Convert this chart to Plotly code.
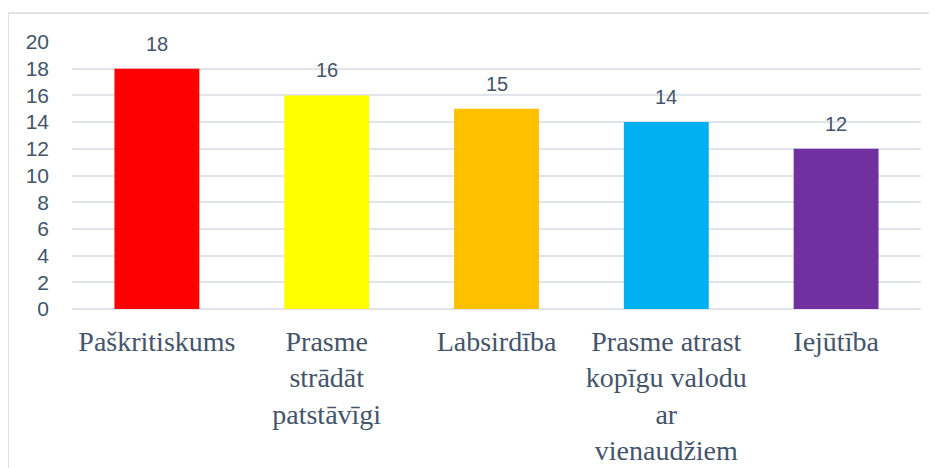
import plotly.graph_objects as go

categories = ["Paškritiskums", "Prasme strādāt patstāvīgi", "Labsirdība",
              "Prasme atrast kopīgu valodu ar vienaudžiem", "Iejūtība"]
tick_labels = ["Paškritiskums", "Prasme<br>strādāt<br>patstāvīgi", "Labsirdība",
               "Prasme atrast<br>kopīgu valodu<br>ar<br>vienaudžiem", "Iejūtība"]
values = [18, 16, 15, 14, 12]
colors = ["#FF0000", "#FFFF00", "#FFC000", "#00B0F0", "#7030A0"]
y_ticks = list(range(0, 21, 2))

text_color = "#44546A"
grid_color = "#E1E4EA"

fig = go.Figure()
fig.add_trace(go.Bar(x=categories, y=values, marker=dict(color=colors, line=dict(width=0)),
                     hoverinfo="x+y"))

for c, v in zip(categories, values):
    fig.add_annotation(x=c, y=v, text=str(v), showarrow=False, yanchor="middle", yshift=25,
                       font=dict(family="Liberation Sans, Arial", size=20, color=text_color))

# outer chart border (page is offset by the 8px body margin)
fig.add_shape(type="rect", xref="paper", yref="paper", x0=-64 / 849, x1=1.1, y0=-0.8,
              y1=1 + 29 / 267,
              line=dict(color="#D9D9D9", width=1.5), fillcolor="rgba(0,0,0,0)", layer="below")

fig.update_layout(
    width=937, height=468,
    margin=dict(l=64, r=24, t=34, b=167, autoexpand=False),
    paper_bgcolor="white", plot_bgcolor="white",
    bargap=0.5, showlegend=False,
    xaxis=dict(tickmode="array", tickvals=categories, ticktext=tick_labels, automargin=False,
               tickfont=dict(family="Liberation Serif, Times New Roman", size=28, color=text_color),
               showgrid=False, showline=False, ticks="", tickangle=0, ticklabelstandoff=13),
    yaxis=dict(range=[0, 20], tickvals=y_ticks, showgrid=True, gridcolor=grid_color, gridwidth=2,
               zeroline=True, zerolinecolor=grid_color, zerolinewidth=2, showline=False, ticks="",
               automargin=False,
               tickfont=dict(family="Liberation Sans, Arial", size=21, color=text_color),
               ticklabelstandoff=22),
)

fig.write_html("out.html")
